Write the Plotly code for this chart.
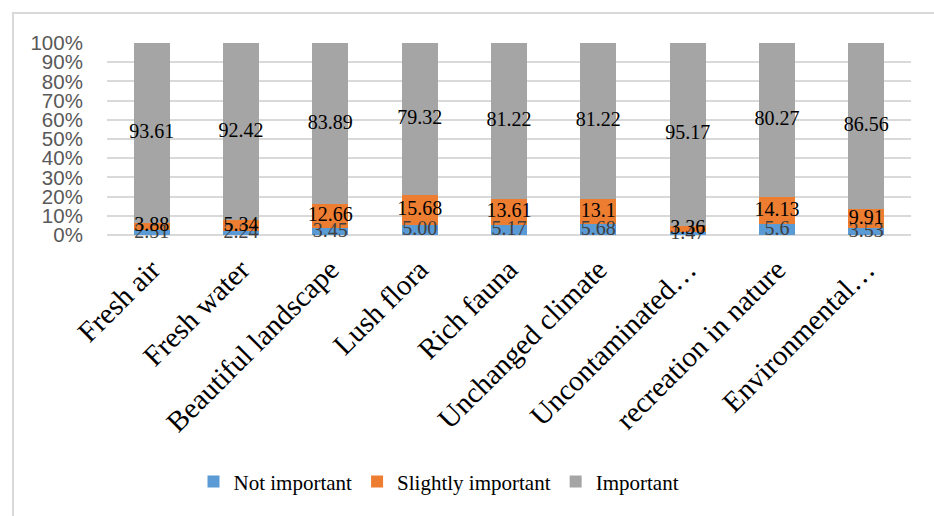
import plotly.graph_objects as go

categories = ["Fresh air", "Fresh water", "Beautiful landscape", "Lush flora", "Rich fauna",
              "Unchanged climate", "Uncontaminated…", "recreation in nature", "Environmental…"]
not_important = [2.51, 2.24, 3.45, 5.00, 5.17, 5.68, 1.47, 5.6, 3.53]
slightly_important = [3.88, 5.34, 12.66, 15.68, 13.61, 13.1, 3.36, 14.13, 9.91]
important = [93.61, 92.42, 83.89, 79.32, 81.22, 81.22, 95.17, 80.27, 86.56]
not_important_text = ["2.51", "2.24", "3.45", "5.00", "5.17", "5.68", "1.47", "5.6", "3.53"]
slightly_text = ["3.88", "5.34", "12.66", "15.68", "13.61", "13.1", "3.36", "14.13", "9.91"]
important_text = ["93.61", "92.42", "83.89", "79.32", "81.22", "81.22", "95.17", "80.27", "86.56"]

colors = ["#5b9bd5", "#ed7d31", "#a5a5a5"]
serif = "Liberation Serif"

fig = go.Figure()
series = [("Not important", not_important), ("Slightly important", slightly_important), ("Important", important)]
for (name, vals), c in zip(series, colors):
    fig.add_trace(go.Bar(x=categories, y=vals, name=name, marker=dict(color=c, line=dict(width=0)),
                         hoverinfo="skip"))

# data labels at segment centres
base = [0.0] * len(categories)
for vals, txt, col in [(not_important, not_important_text, "#404040"),
                       (slightly_important, slightly_text, "#000000"),
                       (important, important_text, "#000000")]:
    mids = [b + v / 2 for b, v in zip(base, vals)]
    fig.add_trace(go.Scatter(x=categories, y=mids, mode="text", text=txt, showlegend=False,
                             textfont=dict(family=serif, size=20, color=col), cliponaxis=False,
                             hoverinfo="skip"))
    base = [b + v for b, v in zip(base, vals)]

fig.update_layout(
    barmode="stack",
    bargap=0.6,
    width=934, height=516,
    margin=dict(l=107, r=23, t=43, b=281),
    plot_bgcolor="white", paper_bgcolor="white",
    font=dict(family=serif, size=21, color="#000000"),
    showlegend=True,
    legend=dict(orientation="h", x=0.1076, xanchor="left", y=-1.286, yanchor="middle",
                font=dict(family=serif, size=21, color="#000000"), traceorder="normal"),
    xaxis=dict(tickangle=-45, tickfont=dict(family=serif, size=29, color="#000000"),
               showgrid=False, showline=False, ticks="outside", ticklen=5,
               tickcolor="rgba(0,0,0,0)"),
    yaxis=dict(range=[0, 100], tickvals=list(range(0, 101, 10)),
               ticktext=[f"{v}%" for v in range(0, 101, 10)],
               tickfont=dict(family="Liberation Sans", size=20.5, color="#595959"),
               ticks="outside", ticklen=19, tickcolor="rgba(0,0,0,0)",
               showgrid=True, gridcolor="#d9d9d9", gridwidth=1.5, zeroline=True,
               zerolinecolor="#d9d9d9", zerolinewidth=1.5, showline=False),
    shapes=[dict(type="rect", xref="paper", yref="paper",
                 x0=(13 - 107) / 804, x1=1.2, y0=-1.6, y1=(235 - 13) / 192,
                 line=dict(color="#d9d9d9", width=2), fillcolor="rgba(0,0,0,0)", layer="below")],
)

fig.write_html("out.html")
